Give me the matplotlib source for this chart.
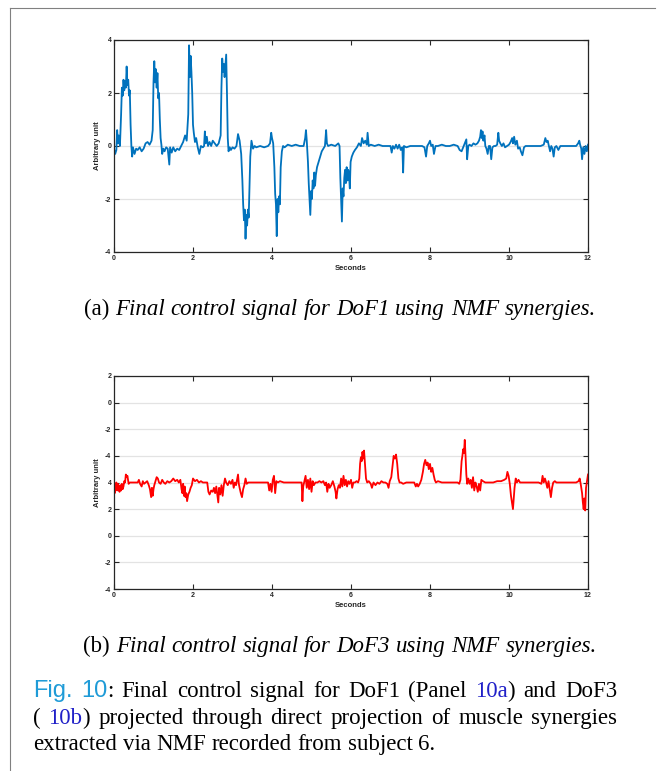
import matplotlib.pyplot as plt
from matplotlib.transforms import IdentityTransform

# Panel (a): DoF1 control signal (seconds, arbitrary unit)
time_a = [
    0.00, 0.03, 0.06, 0.08, 0.10, 0.12, 0.15, 0.18, 0.20, 0.22,
    0.24, 0.26, 0.28, 0.30, 0.32, 0.34, 0.36, 0.38, 0.40, 0.42,
    0.44, 0.46, 0.48, 0.52, 0.56, 0.60, 0.65, 0.70, 0.75, 0.80,
    0.85, 0.90, 0.95, 0.98, 1.00, 1.02, 1.04, 1.06, 1.08, 1.10,
    1.12, 1.14, 1.16, 1.18, 1.20, 1.22, 1.25, 1.28, 1.32, 1.36,
    1.40, 1.42, 1.46, 1.50, 1.55, 1.60, 1.65, 1.70, 1.75, 1.80,
    1.84, 1.88, 1.90, 1.92, 1.94, 1.96, 1.98, 2.00, 2.02, 2.05,
    2.08, 2.12, 2.16, 2.20, 2.25, 2.28, 2.30, 2.32, 2.35, 2.38,
    2.42, 2.46, 2.50, 2.55, 2.60, 2.65, 2.70, 2.72, 2.74, 2.76,
    2.78, 2.80, 2.82, 2.84, 2.86, 2.88, 2.90, 2.93, 2.96, 3.00,
    3.05, 3.10, 3.14, 3.18, 3.22, 3.25, 3.27, 3.29, 3.31, 3.33,
    3.35, 3.37, 3.39, 3.41, 3.43, 3.45, 3.48, 3.52, 3.56, 3.60,
    3.70, 3.80, 3.90, 3.95, 3.98, 4.00, 4.03, 4.06, 4.08, 4.10,
    4.12, 4.14, 4.16, 4.18, 4.20, 4.22, 4.25, 4.28, 4.32, 4.40,
    4.50, 4.60, 4.70, 4.80, 4.84, 4.86, 4.88, 4.91, 4.93, 4.95,
    4.97, 4.99, 5.01, 5.03, 5.05, 5.07, 5.09, 5.11, 5.14, 5.18,
    5.22, 5.26, 5.30, 5.34, 5.37, 5.39, 5.42, 5.50, 5.60, 5.68,
    5.71, 5.73, 5.75, 5.77, 5.79, 5.81, 5.83, 5.85, 5.87, 5.89,
    5.91, 5.93, 5.95, 5.97, 5.99, 6.02, 6.06, 6.10, 6.15, 6.20,
    6.25, 6.28, 6.32, 6.36, 6.40, 6.42, 6.45, 6.50, 6.60, 6.70,
    6.80, 6.90, 7.00, 7.03, 7.06, 7.10, 7.14, 7.18, 7.22, 7.26,
    7.30, 7.32, 7.34, 7.40, 7.50, 7.60, 7.70, 7.80, 7.86, 7.90,
    7.93, 7.97, 8.00, 8.03, 8.07, 8.10, 8.14, 8.20, 8.30, 8.40,
    8.50, 8.60, 8.70, 8.75, 8.80, 8.84, 8.88, 8.92, 8.94, 8.97,
    9.00, 9.05, 9.10, 9.15, 9.20, 9.24, 9.27, 9.29, 9.31, 9.33,
    9.35, 9.38, 9.40, 9.43, 9.46, 9.49, 9.52, 9.55, 9.58, 9.62,
    9.66, 9.70, 9.73, 9.75, 9.78, 9.82, 9.86, 9.90, 9.95, 10.00,
    10.04, 10.08, 10.10, 10.13, 10.16, 10.20, 10.23, 10.27, 10.30, 10.34,
    10.38, 10.42, 10.50, 10.60, 10.70, 10.80, 10.88, 10.92, 10.95, 10.98,
    11.01, 11.04, 11.07, 11.10, 11.13, 11.16, 11.20, 11.25, 11.30, 11.40,
    11.50, 11.60, 11.70, 11.75, 11.78, 11.80, 11.83, 11.85, 11.88, 11.91,
    11.94, 11.97, 12.00,
]
signal_a = [
    -0.10, -0.30, -0.15, 0.60, 0.10, 0.40, 0.00, 1.20, 2.20, 1.90,
    2.50, 2.10, 2.45, 2.20, 3.00, 2.30, 2.50, 1.90, 2.10, 0.80,
    0.00, -0.40, -0.05, -0.30, -0.10, -0.15, -0.05, -0.20, -0.10, 0.10,
    0.15, 0.05, 0.20, 0.60, 2.40, 3.20, 2.40, 2.90, 2.20, 2.75,
    1.80, 2.00, 1.00, 0.30, 0.05, -0.30, -0.10, -0.20, -0.05, -0.10,
    -0.70, -0.05, -0.25, -0.05, -0.20, -0.10, -0.15, 0.00, 0.15, 0.40,
    0.20, 1.20, 3.80, 2.60, 3.40, 2.80, 2.00, 0.80, 0.50, 0.15,
    0.30, -0.05, -0.30, 0.00, -0.05, 0.00, 0.55, 0.10, 0.35, 0.00,
    0.15, 0.00, 0.20, 0.10, 0.00, 0.10, 0.40, 2.20, 3.30, 2.80,
    3.10, 2.60, 3.00, 3.45, 2.00, 0.30, -0.20, -0.05, -0.15, -0.05,
    -0.10, 0.00, 0.45, 0.20, -0.30, -1.30, -2.20, -2.80, -2.40, -3.50,
    -2.60, -3.00, -2.40, -2.70, -1.50, -0.40, 0.20, -0.10, 0.00, -0.05,
    0.00, -0.05, 0.00, 0.10, 0.50, 0.30, 0.10, -0.80, -1.80, -2.20,
    -3.40, -2.00, -2.50, -1.90, -2.20, -0.80, -0.20, 0.00, -0.05, 0.05,
    0.00, 0.05, 0.00, 0.00, 0.30, 0.60, 0.20, -0.60, -1.40, -2.00,
    -2.60, -1.70, -2.00, -1.30, -1.60, -1.00, -1.50, -1.10, -0.80, -0.60,
    -0.40, -0.20, -0.10, 0.00, 0.60, 0.10, 0.00, 0.05, 0.00, 0.10,
    0.00, -1.20, -2.00, -2.85, -1.60, -1.90, -1.20, -0.90, -1.40, -0.80,
    -1.30, -0.90, -1.10, -1.60, -0.60, -0.40, -0.25, -0.15, -0.05, 0.10,
    0.00, 0.30, 0.10, 0.20, 0.05, 0.50, 0.00, 0.05, 0.00, 0.05,
    0.00, 0.00, 0.00, -0.25, 0.00, -0.10, 0.05, -0.10, 0.05, -0.15,
    -0.05, -1.00, 0.00, -0.05, 0.00, 0.00, 0.00, 0.00, -0.05, -0.40,
    0.00, 0.10, 0.20, 0.00, 0.05, -0.30, 0.00, 0.00, 0.05, 0.00,
    0.00, 0.05, 0.00, -0.15, -0.20, -0.05, 0.10, 0.25, -0.50, 0.00,
    0.05, 0.00, 0.10, 0.05, 0.10, 0.20, 0.35, 0.60, 0.30, 0.55,
    0.20, 0.40, 0.00, -0.10, -0.30, 0.00, 0.00, -0.50, -0.05, 0.00,
    0.00, 0.05, 0.50, 0.20, 0.10, 0.00, 0.10, -0.05, 0.00, 0.05,
    0.15, 0.30, 0.10, 0.35, 0.05, 0.20, -0.10, -0.05, -0.20, -0.35,
    -0.05, 0.00, 0.00, 0.00, 0.00, 0.00, 0.05, 0.30, 0.15, 0.20,
    0.00, -0.20, 0.00, -0.10, -0.40, -0.05, 0.00, -0.15, 0.00, 0.00,
    0.00, 0.00, 0.00, 0.10, 0.20, 0.05, -0.10, -0.50, -0.05, -0.30,
    0.00, -0.20, 0.05,
]

# Panel (b): DoF3 control signal
time_b = [
    0.00, 0.02, 0.04, 0.06, 0.08, 0.10, 0.12, 0.14, 0.16, 0.18,
    0.20, 0.22, 0.24, 0.26, 0.28, 0.30, 0.32, 0.34, 0.37, 0.40,
    0.45, 0.50, 0.55, 0.60, 0.63, 0.66, 0.70, 0.73, 0.76, 0.80,
    0.84, 0.88, 0.91, 0.94, 0.96, 0.98, 1.00, 1.02, 1.05, 1.08,
    1.11, 1.14, 1.18, 1.22, 1.26, 1.30, 1.35, 1.40, 1.45, 1.50,
    1.55, 1.60, 1.64, 1.68, 1.71, 1.73, 1.75, 1.77, 1.79, 1.81,
    1.83, 1.85, 1.88, 1.91, 1.94, 1.97, 2.00, 2.05, 2.10, 2.15,
    2.20, 2.25, 2.30, 2.36, 2.39, 2.42, 2.46, 2.50, 2.53, 2.56,
    2.59, 2.62, 2.64, 2.66, 2.69, 2.72, 2.75, 2.78, 2.81, 2.84,
    2.88, 2.92, 2.96, 3.00, 3.03, 3.06, 3.09, 3.12, 3.14, 3.16,
    3.18, 3.21, 3.24, 3.27, 3.30, 3.33, 3.36, 3.40, 3.50, 3.60,
    3.70, 3.80, 3.90, 3.93, 3.96, 3.99, 4.02, 4.05, 4.08, 4.11,
    4.15, 4.20, 4.30, 4.40, 4.50, 4.60, 4.70, 4.75, 4.77, 4.79,
    4.82, 4.85, 4.88, 4.91, 4.94, 4.97, 5.00, 5.03, 5.06, 5.10,
    5.15, 5.20, 5.25, 5.30, 5.34, 5.37, 5.40, 5.43, 5.46, 5.50,
    5.54, 5.58, 5.61, 5.63, 5.66, 5.69, 5.72, 5.75, 5.78, 5.81,
    5.84, 5.87, 5.90, 5.93, 5.96, 6.00, 6.03, 6.06, 6.10, 6.14,
    6.18, 6.21, 6.23, 6.25, 6.27, 6.29, 6.31, 6.33, 6.35, 6.38,
    6.41, 6.45, 6.50, 6.53, 6.57, 6.62, 6.67, 6.72, 6.77, 6.82,
    6.87, 6.92, 6.95, 6.98, 7.02, 7.05, 7.08, 7.11, 7.14, 7.17,
    7.20, 7.23, 7.27, 7.32, 7.40, 7.50, 7.60, 7.64, 7.67, 7.70,
    7.74, 7.78, 7.82, 7.85, 7.88, 7.91, 7.94, 7.97, 8.00, 8.03,
    8.06, 8.09, 8.12, 8.15, 8.20, 8.30, 8.40, 8.50, 8.60, 8.70,
    8.74, 8.77, 8.80, 8.82, 8.84, 8.86, 8.88, 8.90, 8.92, 8.94,
    8.97, 9.00, 9.03, 9.06, 9.09, 9.12, 9.15, 9.18, 9.21, 9.24,
    9.27, 9.30, 9.34, 9.40, 9.50, 9.60, 9.70, 9.80, 9.88, 9.93,
    9.96, 9.99, 10.02, 10.05, 10.08, 10.10, 10.12, 10.14, 10.17, 10.20,
    10.24, 10.28, 10.35, 10.45, 10.55, 10.65, 10.75, 10.82, 10.85, 10.88,
    10.91, 10.94, 10.97, 11.00, 11.03, 11.06, 11.09, 11.12, 11.16, 11.20,
    11.30, 11.40, 11.50, 11.60, 11.70, 11.76, 11.79, 11.82, 11.85, 11.87,
    11.89, 11.91, 11.93, 11.95, 11.97, 12.00,
]
signal_b = [
    3.50, 3.20, 3.80, 4.00, 3.40, 3.90, 3.50, 3.30, 3.80, 3.40,
    3.90, 3.50, 3.70, 4.10, 4.00, 4.60, 4.40, 4.50, 3.90, 4.00,
    4.00, 4.00, 4.00, 4.00, 4.20, 3.90, 3.70, 4.10, 3.90, 4.00,
    4.10, 3.80, 3.50, 2.90, 3.60, 3.00, 3.50, 3.80, 4.10, 4.40,
    4.30, 4.00, 3.90, 4.20, 4.00, 3.90, 4.10, 4.00, 4.10, 4.30,
    4.10, 4.20, 4.00, 4.20, 3.50, 3.20, 3.90, 3.00, 3.70, 2.90,
    3.20, 2.60, 3.10, 3.30, 3.60, 3.80, 4.30, 4.10, 4.20, 4.00,
    4.10, 4.00, 4.00, 4.00, 3.30, 3.10, 3.40, 3.30, 3.60, 3.20,
    3.70, 3.00, 2.50, 3.60, 3.10, 3.80, 3.00, 3.80, 4.30, 4.00,
    3.80, 4.10, 3.90, 4.20, 3.60, 4.00, 3.80, 4.30, 4.60, 3.90,
    3.60, 3.20, 2.90, 3.50, 3.80, 4.30, 3.90, 4.00, 4.00, 4.00,
    4.00, 4.00, 4.00, 3.40, 3.90, 3.30, 4.20, 4.50, 3.20, 4.10,
    4.00, 4.10, 4.00, 4.00, 4.00, 4.00, 4.00, 4.00, 2.60, 3.70,
    4.10, 4.50, 3.60, 4.20, 3.50, 4.30, 3.30, 4.10, 3.80, 4.00,
    4.00, 4.10, 4.00, 4.10, 3.80, 4.00, 3.30, 3.90, 3.60, 3.80,
    4.10, 3.70, 3.30, 2.80, 3.50, 3.80, 3.60, 4.30, 3.70, 4.50,
    3.80, 4.20, 3.70, 4.10, 3.90, 4.20, 3.60, 4.00, 4.00, 4.10,
    4.00, 4.30, 5.40, 5.90, 5.60, 6.30, 5.80, 6.40, 5.60, 4.30,
    4.00, 4.10, 3.90, 3.60, 4.00, 3.80, 4.00, 3.90, 4.10, 4.00,
    4.00, 3.90, 3.60, 4.10, 4.40, 5.20, 6.00, 5.80, 6.10, 5.40,
    4.30, 4.00, 4.00, 3.90, 4.00, 4.00, 4.00, 3.70, 3.90, 3.70,
    3.90, 4.20, 4.80, 5.40, 5.70, 5.30, 5.50, 5.00, 5.40, 4.80,
    5.10, 4.60, 4.20, 4.00, 4.10, 4.00, 4.00, 4.00, 4.00, 4.00,
    3.90, 4.20, 5.60, 6.00, 6.50, 6.20, 7.20, 6.00, 4.60, 3.90,
    4.30, 3.90, 4.20, 3.60, 4.40, 3.40, 4.00, 3.70, 3.30, 3.90,
    3.40, 4.20, 4.10, 4.00, 4.00, 4.00, 4.10, 4.10, 4.20, 4.30,
    4.80, 4.50, 3.90, 3.00, 2.40, 2.00, 2.80, 3.60, 4.30, 4.00,
    4.20, 4.00, 4.00, 4.00, 4.00, 4.00, 4.00, 3.90, 4.50, 4.00,
    4.30, 4.00, 3.60, 4.10, 3.50, 2.90, 3.60, 4.00, 4.10, 4.00,
    4.00, 4.00, 4.00, 4.00, 4.00, 4.10, 4.30, 3.80, 3.20, 2.50,
    2.00, 2.80, 1.90, 3.60, 4.00, 4.60,
]

x_ticks = [0, 2, 4, 6, 8, 10, 12]
y_ticks_a = [-4, -2, 0, 2, 4]
y_ticks_b = [-4, -2, 0, 2, 4, 6, 8, 10, 12]
y_labels_b = ['-4', '-2', '0', '2', '4', '-4', '-2', '0', '2']

W, H = 665, 771
fig = plt.figure(figsize=(W / 100, H / 100), dpi=100)
plt.rcParams['font.family'] = 'Liberation Sans'

dark = '#262626'


def panel(rect_px, t, y, color, yticks, ylabels, ylim):
    x0, y0, x1, y1 = rect_px
    ax = fig.add_axes([x0 / W, 1 - y1 / H, (x1 - x0) / W, (y1 - y0) / H])
    ax.plot(t, y, color=color, lw=1.3)
    ax.set_xlim(0, 12)
    ax.set_ylim(*ylim)
    ax.set_xticks(x_ticks)
    ax.set_xticklabels([str(v) for v in x_ticks])
    ax.set_yticks(yticks)
    ax.set_yticklabels(ylabels)
    ax.tick_params(direction='in', top=True, right=True, length=3.5,
                   width=0.8, labelsize=5, colors=dark, pad=2)
    plt.setp(ax.get_xticklabels() + ax.get_yticklabels(), fontweight='bold')
    for sp in ax.spines.values():
        sp.set_color(dark)
        sp.set_linewidth(0.9)
    ax.grid(axis='y', color='#e3e3e3', lw=0.9)
    ax.set_axisbelow(True)
    ax.set_ylabel('Arbitrary unit', fontsize=5.5, fontweight='bold', color=dark, labelpad=3)
    ax.set_xlabel('Seconds', fontsize=5.5, fontweight='bold', color=dark, labelpad=2.5)
    return ax


panel((114, 40, 588, 252), time_a, signal_a, '#0072BD', y_ticks_a,
      [str(v) for v in y_ticks_a], (-4, 4))
panel((114, 376, 588, 589), time_b, signal_b, '#FF0000', y_ticks_b,
      y_labels_b, (-4, 12))

renderer = fig.canvas.get_renderer()
FS = 16.5
serif = dict(family='Liberation Serif', fontsize=FS, color='black')
serif_it = dict(serif, style='italic')
blue = dict(serif, color='#2020c8')
sans_fig = dict(family='Liberation Sans', fontsize=17, color='#1f9bd7')


def put_words(words, y_px, x0=None, x1=None, center=None):
    pieces, widths = [], []
    for word in words:
        w = 0
        for txt, kw in word:
            t = fig.text(0, 0, txt, transform=IdentityTransform(),
                         ha='left', va='baseline', **kw)
            pieces.append((t, len(widths), w))
            w += t.get_window_extent(renderer).width
        widths.append(w)
    space = FS * 100 / 72 * 0.25
    if x1 is not None:
        gap = (x1 - x0 - sum(widths)) / (len(widths) - 1)
    else:
        gap = space
    total = sum(widths) + gap * (len(widths) - 1)
    if center is not None:
        x0 = center - total / 2
    starts, pos = [], x0
    for w in widths:
        starts.append(pos)
        pos += w + gap
    for t, idx, off in pieces:
        t.set_position((starts[idx] + off, H - y_px))


def plain(text, kw):
    return [[(w, kw)] for w in text.split()]


put_words([[('(a)', serif)]] + plain('Final control signal for DoF1 using NMF synergies.', serif_it),
          315, center=340)
put_words([[('(b)', serif)]] + plain('Final control signal for DoF3 using NMF synergies.', serif_it),
          652, center=340)

line1 = ([[('Fig.', sans_fig)], [('10', sans_fig), (':', serif)]]
         + plain('Final control signal for DoF1', serif)
         + [[('(Panel', serif)], [('10a', blue), (')', serif)]]
         + plain('and DoF3', serif))
line2 = ([[('(', serif)], [('10b', blue), (')', serif)]]
         + plain('projected through direct projection of muscle synergies', serif))
line3 = plain('extracted via NMF recorded from subject 6.', serif)
put_words(line1, 697, x0=33, x1=617)
put_words(line2, 724, x0=33, x1=617)
put_words(line3, 750, x0=33)

# page frame
fig.add_artist(plt.Line2D([10 / W, 10 / W], [0, 1 - 8 / H], color='#808080', lw=0.8))
fig.add_artist(plt.Line2D([10 / W, 655 / W], [1 - 8 / H, 1 - 8 / H], color='#808080', lw=0.8))

fig.savefig('out.png', dpi=100)
